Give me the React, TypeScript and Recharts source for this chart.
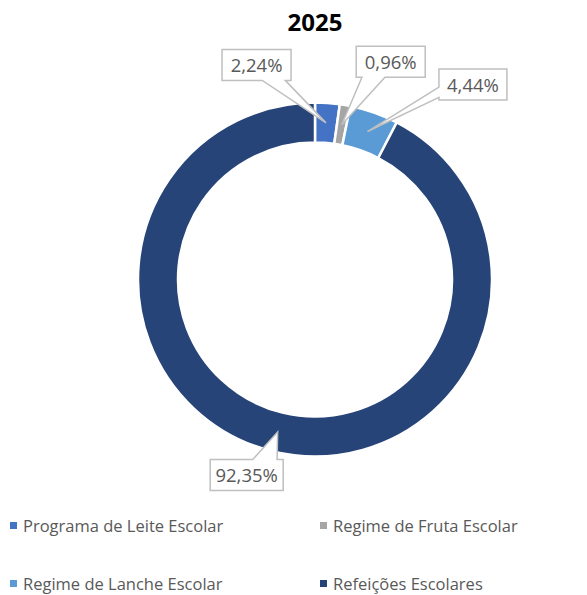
import React from 'react';
import { PieChart, Pie, Cell, Legend } from 'recharts';

const title = '2025';
const categories = [
  'Programa de Leite Escolar',
  'Regime de Fruta Escolar',
  'Regime de Lanche Escolar',
  'Refeições Escolares',
];
const shares = [2.24, 0.96, 4.44, 92.35];
const colors = ['#4472C4', '#A5A5A5', '#5B9BD5', '#264478'];

// callout box centre, relative to the wedge tip, and box width
const calloutOffsets = [
  [-69.5, -58],
  [49, -63],
  [105.5, -47],
  [-31, 43],
];
const calloutWidths = [69, 69, 68, 73];
const CALLOUT_H = 31;

const data = categories.map((name, i) => ({ name, value: shares[i] }));

const fmt = (v: number) => v.toFixed(2).replace('.', ',') + '%';

const RAD = Math.PI / 180;

// rectangle with a wedge pointing at (tx, ty), like a spreadsheet callout
const calloutPath = (x0: number, y0: number, w: number, h: number, tx: number, ty: number) => {
  const x1 = x0 + w;
  const y1 = y0 + h;
  const dx = (tx - (x0 + w / 2)) / w;
  const dy = (ty - (y0 + h / 2)) / h;
  if (Math.abs(dy) >= Math.abs(dx)) {
    const xa = dx > 0 ? x0 + (w * 7) / 12 : x0 + w / 12;
    const xb = dx > 0 ? x0 + (w * 11) / 12 : x0 + (w * 5) / 12;
    if (dy > 0) {
      return `M${x0},${y0}H${x1}V${y1}H${xb}L${tx},${ty}L${xa},${y1}H${x0}Z`;
    }
    return `M${x0},${y0}H${xa}L${tx},${ty}L${xb},${y0}H${x1}V${y1}H${x0}Z`;
  }
  const ya = dy > 0 ? y0 + (h * 7) / 12 : y0 + h / 12;
  const yb = dy > 0 ? y0 + (h * 11) / 12 : y0 + (h * 5) / 12;
  if (dx > 0) {
    return `M${x0},${y0}H${x1}V${ya}L${tx},${ty}L${x1},${yb}V${y1}H${x0}Z`;
  }
  return `M${x0},${y0}H${x1}V${y1}H${x0}V${yb}L${tx},${ty}L${x0},${ya}Z`;
};

const renderCallout = (props: any) => {
  const { cx, cy, midAngle, innerRadius, outerRadius, index, value } = props;
  const r = (innerRadius + outerRadius) / 2;
  const tx = cx + r * Math.cos(-midAngle * RAD);
  const ty = cy + r * Math.sin(-midAngle * RAD);
  const [ox, oy] = calloutOffsets[index];
  const w = calloutWidths[index];
  const bx = tx + ox;
  const by = ty + oy;
  return (
    <g key={`callout-${index}`}>
      <path
        d={calloutPath(bx - w / 2, by - CALLOUT_H / 2, w, CALLOUT_H, tx, ty)}
        fill="#fff"
        stroke="#BFBFBF"
        strokeWidth={1.5}
      />
      <text
        x={bx}
        y={by}
        textAnchor="middle"
        dominantBaseline="central"
        fill="#595959"
        fontSize={18.5}
        fontFamily="'Open Sans', sans-serif"
      >
        {fmt(value)}
      </text>
    </g>
  );
};

const LegendContent = () => (
  <div
    style={{
      display: 'grid',
      gridTemplateColumns: '310px 277px',
      gridAutoRows: '58px',
      fontFamily: "'Open Sans', sans-serif",
      fontSize: 16.5,
      color: '#595959',
    }}
  >
    {categories.map((name, i) => (
      <div key={name} style={{ display: 'flex', alignItems: 'center', paddingLeft: 10 }}>
        <span style={{ width: 7, height: 7, background: colors[i], marginRight: 6, display: 'inline-block' }} />
        <span>{name}</span>
      </div>
    ))}
  </div>
);

export default function App() {
  return (
    <div style={{ position: 'absolute', left: 0, top: 0, width: 587, height: 595, background: '#fff' }}>
      <PieChart width={587} height={595} margin={{ top: 0, right: 0, bottom: 0, left: 0 }}>
        <text
          x={315}
          y={21}
          textAnchor="middle"
          dominantBaseline="central"
          fontSize={24}
          fontWeight="bold"
          fill="#000"
          fontFamily="'Open Sans', sans-serif"
        >
          {title}
        </text>
        <Pie
          data={data}
          dataKey="value"
          nameKey="name"
          cx={315}
          cy={279.5}
          innerRadius={137}
          outerRadius={177}
          startAngle={90}
          endAngle={-270}
          stroke="#fff"
          strokeWidth={2.5}
          label={renderCallout}
          labelLine={false}
          isAnimationActive={false}
        >
          {data.map((d, i) => (
            <Cell key={d.name} fill={colors[i]} />
          ))}
        </Pie>
        <Legend
          content={<LegendContent />}
          wrapperStyle={{ position: 'absolute', left: 0, top: 496, width: 587 }}
        />
      </PieChart>
    </div>
  );
}
